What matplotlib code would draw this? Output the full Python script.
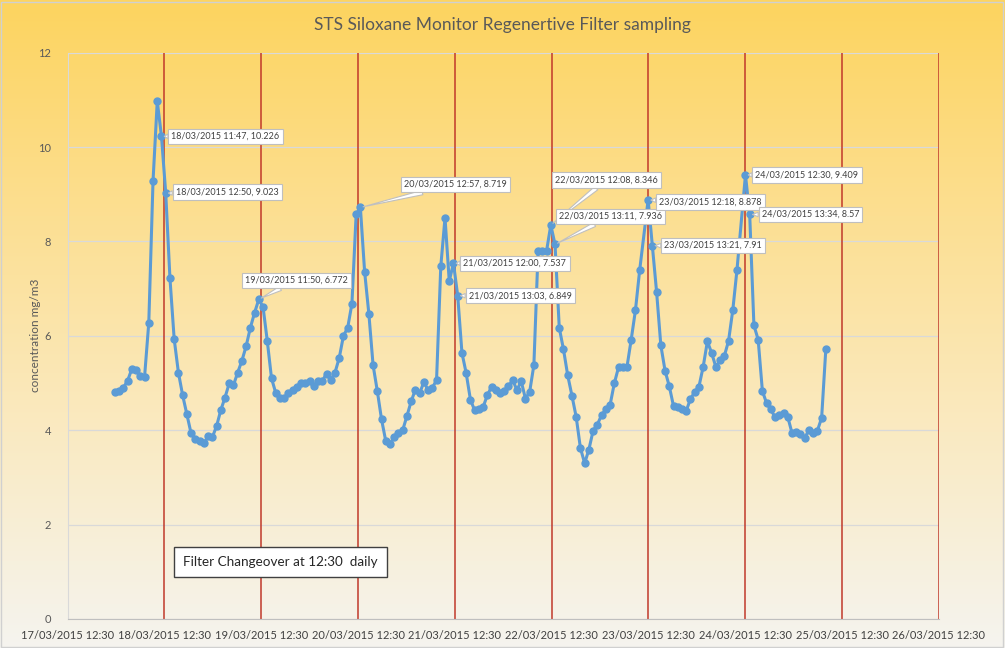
import numpy as np
import pandas as pd
import matplotlib.pyplot as plt
import matplotlib.dates as mdates
from matplotlib.colors import LinearSegmentedColormap

# sampling schedule of the monitor (about one sample every 63 min)
start_time = "2015-03-18 00:15"
sample_step = "62min56s"
n_slots = 169
missing_slots = [125, 148]   # no reading recorded in these slots

conc = [4.80, 4.82, 4.90, 5.05, 5.30, 5.27, 5.15, 5.13, 6.28, 9.28,
        10.97, 10.226, 9.023, 7.22, 5.93, 5.22, 4.74, 4.34, 3.93, 3.82,
        3.77, 3.72, 3.87, 3.85, 4.08, 4.42, 4.69, 4.99, 4.95, 5.22,
        5.47, 5.78, 6.17, 6.49, 6.772, 6.61, 5.89, 5.10, 4.79, 4.68,
        4.68, 4.79, 4.85, 4.92, 4.99, 4.99, 5.04, 4.94, 5.04, 5.04,
        5.20, 5.06, 5.22, 5.53, 6.00, 6.17, 6.68, 8.57, 8.719, 7.36,
        6.47, 5.38, 4.83, 4.23, 3.77, 3.70, 3.86, 3.94, 4.00, 4.30,
        4.61, 4.86, 4.78, 5.02, 4.85, 4.90, 5.06, 7.47, 8.50, 7.16,
        7.537, 6.849, 5.64, 5.21, 4.65, 4.42, 4.44, 4.49, 4.74, 4.92,
        4.85, 4.78, 4.83, 4.93, 5.06, 4.85, 5.04, 4.67, 4.81, 5.38,
        7.80, 7.80, 7.80, 8.346, 7.936, 6.17, 5.71, 5.16, 4.73, 4.28,
        3.62, 3.30, 3.59, 3.99, 4.12, 4.32, 4.44, 4.53, 4.99, 5.33,
        5.34, 5.34, 5.92, 6.54, 7.39, 8.878, 7.91, 6.93, 5.80,
        5.26, 4.93, 4.51, 4.49, 4.44, 4.41, 4.66, 4.81, 4.92, 5.34,
        5.88, 5.64, 5.34, 5.48, 5.57, 5.89, 6.54, 7.40, 9.409,
        8.57, 6.22, 5.92, 4.83, 4.57, 4.44, 4.27, 4.32, 4.37, 4.28,
        3.94, 3.96, 3.92, 3.84, 4.00, 3.93, 3.99, 4.26, 5.73]

# labelled points: position in conc, label text
label_idx = [11, 12, 34, 58, 80, 81, 103, 104, 125, 126, 147, 148]
label_txt = ["18/03/2015 11:47, 10.226", "18/03/2015 12:50, 9.023",
             "19/03/2015 11:50, 6.772", "20/03/2015 12:57, 8.719",
             "21/03/2015 12:00, 7.537", "21/03/2015 13:03, 6.849",
             "22/03/2015 12:08, 8.346", "22/03/2015 13:11, 7.936",
             "23/03/2015 12:18, 8.878", "23/03/2015 13:21, 7.91",
             "24/03/2015 12:30, 9.409", "24/03/2015 13:34, 8.57"]
label_off = [(10, 0), (10, 1), (-14, 19), (44, 23), (10, 0), (11, 0),
             (4, 45), (4, 28), (11, -2), (12, 0), (10, 0), (12, 0)]

changeovers = ["2015-03-18 12:30", "2015-03-19 12:30", "2015-03-20 12:30",
               "2015-03-21 12:30", "2015-03-22 12:30", "2015-03-23 12:30",
               "2015-03-24 12:30", "2015-03-25 12:30", "2015-03-26 12:30"]

slots = pd.date_range(start_time, periods=n_slots, freq=sample_step)
times = slots.delete(missing_slots)

plt.rcParams['font.family'] = ['Lato', 'DejaVu Sans']

fig = plt.figure(figsize=(10.05, 6.48), dpi=100)

# gold-to-white gradient background
bg = fig.add_axes([0, 0, 1, 1], zorder=-5)
cmap = LinearSegmentedColormap.from_list("bg", ["#FDD45F", "#FCDF92", "#FAEAC2", "#F5F4EF"])
bg.imshow(np.linspace(0, 1, 256).reshape(-1, 1), aspect="auto", cmap=cmap,
          extent=[0, 1, 0, 1])
bg.set_axis_off()
fig.patches.append(plt.Rectangle((0.001, 0.002), 0.997, 0.995, transform=fig.transFigure,
                                 fill=False, ec="#D0D0D0", lw=1))

ax = fig.add_axes([0.0672, 0.0448, 0.8671, 0.874])
ax.set_facecolor("none")

for c in changeovers:
    ax.axvline(pd.Timestamp(c), color="#C0392B", lw=1.1, zorder=2)

ax.plot(times, conc, color="#5B9BD5", lw=2.2, marker="o", ms=5, zorder=3)

for i, txt, off in zip(label_idx, label_txt, label_off):
    ax.annotate(txt, xy=(times[i], conc[i]), xytext=off, textcoords="offset pixels",
                ha="left", va="center", fontsize=6.5, color="#404040", zorder=5,
                bbox=dict(boxstyle="square,pad=0.35", fc="white", ec="#BFBFBF", lw=0.8),
                arrowprops=dict(arrowstyle="wedge,tail_width=0.5", fc="white",
                                ec="#BFBFBF", lw=0.8, shrinkA=0, shrinkB=2))

ax.set_ylim(0, 12)
ax.set_yticks(range(0, 13, 2))
ax.set_xlim(pd.Timestamp("2015-03-17 12:30"), pd.Timestamp("2015-03-26 12:30"))
ax.set_xticks(pd.date_range("2015-03-17 12:30", "2015-03-26 12:30", freq="D"))
ax.xaxis.set_major_formatter(mdates.DateFormatter("%d/%m/%Y %H:%M"))
ax.grid(axis="y", color="#D9D9D9", lw=0.9)
ax.set_axisbelow(True)
for s in ["top", "right"]:
    ax.spines[s].set_visible(False)
ax.spines["left"].set_color("#D9D9D9")
ax.spines["bottom"].set_color("#BFBFBF")
ax.tick_params(axis="both", length=0, labelsize=8, colors="#595959")
ax.tick_params(axis="x", pad=8, labelcolor="#404040")
ax.tick_params(axis="y", pad=12)
ax.set_ylabel("concentration mg/m3", fontsize=8.5, color="#595959", labelpad=-2)

fig.text(0.5, 0.962, "STS Siloxane Monitor Regenertive Filter sampling",
         ha="center", va="center", fontsize=12.5, color="#595959")

ax.text(0.1325, 0.1006, "Filter Changeover at 12:30  daily", transform=ax.transAxes,
        ha="left", va="center", fontsize=9.7, color="#262626",
        bbox=dict(boxstyle="square,pad=0.7", fc="white", ec="#404040", lw=1))

fig.savefig("out.png", dpi=100)
